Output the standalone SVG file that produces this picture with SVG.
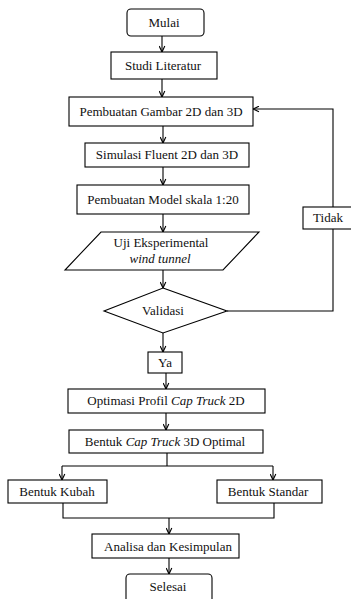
<svg xmlns="http://www.w3.org/2000/svg" width="351" height="599" viewBox="0 0 351 599">
<defs>
<marker id="arr" viewBox="0 0 10 10" refX="9.5" refY="5" markerWidth="7" markerHeight="7" markerUnits="userSpaceOnUse" orient="auto">
<path d="M1,1 L9.5,5 L1,9" fill="none" stroke="#000" stroke-width="1.6"/>
</marker>
</defs>
<style>
.box{fill:#fff;stroke:#000;stroke-width:1.1}
.t{font-family:"Liberation Serif","Times New Roman",serif;font-size:13px;fill:#111;text-anchor:middle}
.i{font-style:italic}
.c{fill:none;stroke:#000;stroke-width:1.1}
.a{marker-end:url(#arr)}
</style>
<rect width="351" height="599" fill="#fff"/>
<g id="connectors">
<line class="c a" x1="162" y1="36" x2="162" y2="52"/>
<line class="c a" x1="162" y1="79" x2="162" y2="97"/>
<line class="c a" x1="163" y1="126" x2="163" y2="143"/>
<line class="c a" x1="163" y1="167" x2="163" y2="185"/>
<line class="c a" x1="163" y1="214" x2="163" y2="232"/>
<line class="c a" x1="163" y1="270" x2="163" y2="288"/>
<line class="c a" x1="163" y1="333" x2="163" y2="352"/>
<line class="c a" x1="166" y1="373" x2="166" y2="389"/>
<line class="c a" x1="166" y1="413" x2="166" y2="430"/>
<polyline class="c" points="227,311 333,311 333,229"/>
<polyline class="c a" points="333,207 333,109 253,109"/>
<polyline class="c" points="167,453 167,466"/>
<polyline class="c" points="62,466 273,466"/>
<line class="c a" x1="62" y1="466" x2="62" y2="480"/>
<line class="c a" x1="273" y1="466" x2="273" y2="480"/>
<polyline class="c" points="63,503 63,518 274,518 274,503"/>
<line class="c a" x1="169" y1="518" x2="169" y2="534"/>
<line class="c a" x1="169" y1="558" x2="169" y2="574"/>
</g>
<g id="mulai"><rect class="box" x="127" y="9" width="77" height="27" rx="4"/><text class="t" x="164" y="27">Mulai</text></g>
<g id="studi"><rect class="box" x="111" y="52" width="106" height="27"/><text class="t" x="163" y="70">Studi Literatur</text></g>
<g id="gambar"><rect class="box" x="69" y="97" width="184" height="29"/><text class="t" x="161" y="116">Pembuatan Gambar 2D dan 3D</text></g>
<g id="simulasi"><rect class="box" x="85" y="143" width="164" height="24"/><text class="t" x="167" y="159">Simulasi Fluent 2D dan 3D</text></g>
<g id="model"><rect class="box" x="77" y="185" width="172" height="29"/><text class="t" x="163" y="204">Pembuatan Model skala 1:20</text></g>
<g id="uji"><polygon class="box" points="101,232 259,232 223,270 65,270"/><text class="t" x="161" y="247">Uji Eksperimental</text><text class="t i" x="160" y="263">wind tunnel</text></g>
<g id="validasi"><polygon class="box" points="163,288 227,311 163,333 104,311"/><text class="t" x="163" y="315">Validasi</text></g>
<g id="tidak"><rect class="box" x="303" y="207" width="50" height="22"/><text class="t" x="328" y="222">Tidak</text></g>
<g id="ya"><rect class="box" x="148" y="352" width="34" height="21"/><text class="t" x="165" y="367">Ya</text></g>
<g id="optimasi"><rect class="box" x="68" y="389" width="197" height="24"/><text class="t" x="166" y="405">Optimasi Profil <tspan class="i">Cap Truck</tspan> 2D</text></g>
<g id="bentuk3d"><rect class="box" x="69" y="430" width="194" height="23"/><text class="t" x="165" y="446">Bentuk <tspan class="i">Cap Truck</tspan> 3D Optimal</text></g>
<g id="kubah"><rect class="box" x="8" y="480" width="99" height="23"/><text class="t" x="57" y="496">Bentuk Kubah</text></g>
<g id="standar"><rect class="box" x="217" y="480" width="105" height="23"/><text class="t" x="268" y="496">Bentuk Standar</text></g>
<g id="analisa"><rect class="box" x="92" y="534" width="147" height="24"/><text class="t" x="168" y="551">Analisa dan Kesimpulan</text></g>
<g id="selesai"><rect class="box" x="126" y="574" width="86" height="34" rx="4"/><text class="t" x="168" y="591">Selesai</text></g>
</svg>
